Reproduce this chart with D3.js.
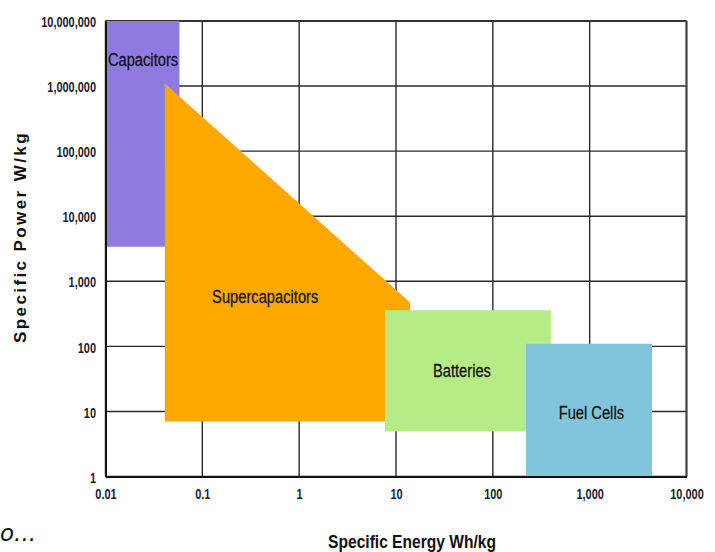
<!DOCTYPE html>
<html>
<head>
<meta charset="utf-8">
<script src="https://cdn.jsdelivr.net/npm/d3@7"></script>
<style>
  html, body { margin: 0; padding: 0; background: #fff; }
  svg { display: block; }
  .narrow { font-family: "Liberation Sans", Arial, sans-serif; }
</style>
</head>
<body>
<svg id="chart" width="715" height="552"></svg>
<script>
// ---- data ----
const xTicks = [0.01, 0.1, 1, 10, 100, 1000, 10000];
const xTickLabels = ["0.01", "0.1", "1", "10", "100", "1,000", "10,000"];
const yTicks = [1, 10, 100, 1000, 10000, 100000, 1000000, 10000000];
const yTickLabels = ["1", "10", "100", "1,000", "10,000", "100,000", "1,000,000", "10,000,000"];

const categories = ["Capacitors", "Supercapacitors", "Batteries", "Fuel Cells"];
// region outlines: [specific energy Wh/kg, specific power W/kg]
const capacitorsRegion = [[0.01, 1e7], [0.058, 1e7], [0.058, 3400], [0.01, 3400]];
const supercapacitorsRegion = [[0.041, 1.1e6], [14, 470], [14, 7], [0.041, 7]];
const batteriesRegion = [[7.7, 360], [400, 360], [400, 4.9], [7.7, 4.9]];
const fuelCellsRegion = [[220, 110], [4400, 110], [4400, 1], [220, 1]];
// label anchors in data units
const labelEnergy = [0.0244, 0.446, 48, 1040];
const labelPower = [2.04e6, 470, 34, 7.65];

const xTitle = "Specific Energy Wh/kg";
const yTitle = "Specific Power W/kg";
const cornerNote = "o...";

// ---- drawing ----
const regions = [capacitorsRegion, supercapacitorsRegion, batteriesRegion, fuelCellsRegion];
const colors = ["#8f7ae2", "#ffa800", "#b5ec86", "#80c5d9"];
const squeeze = 0.82;     // condensed look of the original typeface
const tickSqueeze = 0.73;

const svg = d3.select("#chart");
const x = d3.scaleLog().domain([0.01, 10000]).range([105.5, 686.5]);
const y = d3.scaleLog().domain([1, 1e7]).range([476.5, 21]);

// grid lines (under the regions)
const grid = svg.append("g");
grid.selectAll("line.v").data(xTicks).join("line")
  .attr("x1", d => x(d)).attr("x2", d => x(d))
  .attr("y1", y(1e7)).attr("y2", y(1))
  .attr("stroke", "#2a2a2a").attr("stroke-width", 1.4);
grid.selectAll("line.h").data(yTicks).join("line")
  .attr("y1", d => y(d)).attr("y2", d => y(d))
  .attr("x1", x(0.01)).attr("x2", x(10000))
  .attr("stroke", "#2a2a2a").attr("stroke-width", 1.4);
// top & right border
grid.append("line").attr("x1", x(0.01)).attr("x2", x(10000)).attr("y1", y(1e7)).attr("y2", y(1e7))
  .attr("stroke", "#333").attr("stroke-width", 2);
grid.append("line").attr("x1", x(10000)).attr("x2", x(10000)).attr("y1", y(1e7)).attr("y2", y(1))
  .attr("stroke", "#444").attr("stroke-width", 2);

// regions
const line = d3.line().x(d => x(d[0])).y(d => y(d[1]));
svg.append("g").selectAll("path").data(regions).join("path")
  .attr("d", d => line(d) + "Z")
  .attr("fill", (d, i) => colors[i]);

// axes lines (left & bottom) on top
const xAxis = d3.axisBottom(x).tickValues(xTicks).tickFormat((d, i) => xTickLabels[i]).tickSize(0).tickPadding(11.5);
const yAxis = d3.axisLeft(y).tickValues(yTicks).tickFormat((d, i) => yTickLabels[i]).tickSize(0);

const gx = svg.append("g").attr("transform", `translate(0,${y(1)})`).call(xAxis);
const gy = svg.append("g").attr("transform", `translate(${x(0.01)},0)`).call(yAxis);
[gx, gy].forEach(g => {
  g.select(".domain").attr("stroke", "#111").attr("stroke-width", 2);
  g.selectAll("text").attr("class", "narrow")
    .attr("font-size", 15).attr("font-weight", "bold").attr("fill", "#1b1b30")
    .attr("transform", `scale(${tickSqueeze},1)`);
});
gx.selectAll("text").attr("dy", "0.71em");
gy.selectAll("text").attr("dy", "0.38em").attr("x", -9.5 / tickSqueeze);

// region labels
svg.append("g").selectAll("text").data(categories).join("text")
  .attr("class", "narrow")
  .attr("transform", (d, i) => `translate(${x(labelEnergy[i])},${y(labelPower[i])}) scale(${squeeze + 0.02},1)`)
  .attr("text-anchor", "middle")
  .attr("font-size", 17.5)
  .attr("fill", "#111")
  .attr("stroke", "#111").attr("stroke-width", 0.25)
  .text(d => d);

// axis titles
svg.append("text").attr("class", "narrow")
  .attr("transform", `translate(412,548) scale(${squeeze},1)`)
  .attr("text-anchor", "middle").attr("font-size", 19).attr("font-weight", "bold").attr("fill", "#111")
  .text(xTitle);

svg.append("text")
  .attr("transform", "translate(26,237) rotate(-90)")
  .attr("text-anchor", "middle")
  .attr("font-family", "'Liberation Sans', Arial, sans-serif")
  .attr("font-size", 17).attr("font-weight", "bold").attr("letter-spacing", 2.4).attr("fill", "#111")
  .text(yTitle);

// partly visible note in corner
svg.append("text")
  .attr("x", 0).attr("y", 541)
  .attr("font-family", "'DejaVu Sans', sans-serif")
  .attr("font-style", "italic").attr("font-size", 23).attr("fill", "#111")
  .text(cornerNote);
</script>
</body>
</html>
